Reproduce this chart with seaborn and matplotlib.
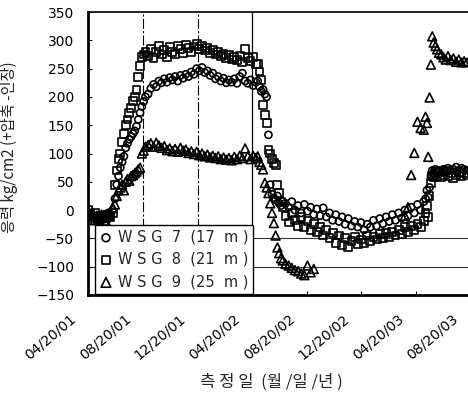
import numpy as np
import pandas as pd
import matplotlib
matplotlib.use("Agg")
import matplotlib.pyplot as plt
import seaborn as sns
from matplotlib.transforms import ScaledTranslation

nan = np.nan

# ---------------- data ----------------
start_date = "2001-04-20"
day_offsets = [
    0, 5, 10, 15, 20, 25, 30, 35, 40, 45, 50, 55,
    60, 64, 68, 72, 76, 80, 84, 88, 92, 96, 100, 104, 108, 112, 116, 120, 124, 128,
    134, 140, 146, 152, 158, 164, 170, 176, 182, 188, 194, 200, 206, 212, 218, 224,
    230, 236, 242, 248, 254, 260, 266, 272, 278, 284, 290, 296, 302, 308, 314, 320,
    326, 332, 338, 344, 350, 356, 362, 368, 374,
    378, 382, 386, 390, 394, 398, 402, 406, 410, 414, 418, 422, 426, 430, 434,
    440, 447, 454, 461, 468, 475, 482, 489, 496, 503, 510, 517, 524, 531, 538,
    545, 552, 559, 566, 573, 580, 587, 594, 601, 608, 615, 622, 629, 636, 643,
    650, 657, 664, 671, 678, 685, 692, 699, 706, 713, 720, 727, 734, 741, 748,
    752, 755, 758, 761, 764, 767, 770, 774, 778, 782, 787, 792, 797, 802, 808,
    814, 820, 826, 832, 838, 844,
]

wsg7 = [
    -5, -10, -8, -15, -12, -10, -18, -8, -12, -5, -10, 0,
    20, 45, 60, 75, 85, 95, 110, 118, 125, 130, 135, 140, 148, 160, 172, 183, 192, 200,
    205, 215, 222, 218, 228, 225, 232, 226, 234, 230, 236, 228, 238, 233, 240, 236,
    244, 240, 250, 246, 252, 243, 246, 238, 242, 232, 236, 228, 233, 225, 230, 226,
    232, 224, 236, 242, 228, 224, 230, 220, 226,
    228, 218, 210, 213, 205, 200, 133, 45, 28, 22, 18, 25, 12, 8, 15,
    12, 5, 15, 0, 8, -5, 10, -2, 5, -8, 2, -10, 4, -12, -5,
    -18, -8, -20, -12, -25, -15, -28, -20, -30, -22, -35, -25, -30, -18, -28,
    -15, -24, -12, -20, -8, -18, -5, -14, 0, -10, 5, -5, 10, 0, 15,
    20, 35, 23, 40, 60, 70, 65, 72, 68, 70, 66, 72, 68, 74, 70,
    72, 76, 70, 74, 72, 70,
]

wsg8 = [
    0, -8, -12, -5, -15, -18, -10, -20, -14, -8, -12, -5,
    45, 70, 90, 100, 120, 135, 150, 160, 172, 180, 192, 200, 212, 235, 255, 270, 275, 280,
    272, 285, 268, 280, 290, 275, 283, 270, 288, 280, 276, 290, 284, 278, 292, 286,
    280, 289, 293, 285, 290, 282, 287, 278, 283, 275, 280, 272, 276, 268, 274, 266,
    270, 265, 272, 262, 285, 268, 264, 270, 258,
    258, 245, 230, 186, 168, 154, 106, 100, 90, 83, 80, 44, 30, 15, 5,
    -10, -22, -5, -18, -28, -12, -30, -20, -35, -25, -38, -30, -45, -35, -50,
    -40, -58, -45, -62, -50, -65, -55, -48, -60, -52, -58, -45, -55, -48, -52,
    -42, -50, -40, -48, -38, -45, -35, -42, -30, -38, -28, -35, -25, -30, -20,
    -5, 8, -12, 25, 48, 60, 58, 65, 60, 68, 58, 62, 70, 60, 65,
    56, 62, 68, 60, 65, 62,
]

wsg9 = [
    -3, -12, -5, -18, -10, -15, -8, -14, -20, -10, -5, 5,
    10, 25, 35, 40, 45, 35, 50, 55, 52, 60, 62, 65, 68, 72, 75, 100, 105, 112,
    115, 118, 112, 119, 114, 110, 113, 106, 109, 104, 108, 103, 110, 105, 107, 101,
    104, 99, 103, 97, 100, 95, 98, 93, 96, 92, 95, 90, 93, 89, 92, 88,
    94, 90, 96, 92, 109, 95, 90, 96, 92,
    95, 85, 80, 72, 48, 40, 30, 12, -5, -23, -45, -66, -76, -85, -89,
    -95, -98, -102, -106, -108, -112, -115, -98, -110, -104, nan, nan, nan, nan, nan,
    nan, nan, nan, nan, nan, nan, nan, nan, nan, nan, nan, nan, nan, nan, nan,
    nan, nan, nan, nan, nan, nan, nan, nan, -10, 5, 62, 101, 156, 145, 142,
    165, 154, 94, 199, 257, 307, 296, 290, 284, 278, 275, 270, 266, 272, 265,
    268, 262, 266, 261, 263, 261,
]

series_labels = ["W S G  7  (17  m )", "W S G  8  (21  m )", "W S G  9  (25  m )"]
tick_dates = ["2001-04-20", "2001-08-20", "2001-12-20", "2002-04-20",
              "2002-08-20", "2002-12-20", "2003-04-20", "2003-08-20"]
tick_labels = ["04/20/01", "08/20/01", "12/20/01", "04/20/02",
               "08/20/02", "12/20/02", "04/20/03", "08/20/03"]
y_ticks = [-150, -100, -50, 0, 50, 100, 150, 200, 250, 300, 350]
x_title = "측 정 일  (월 /일 /년 )"
y_title = "응력 kg/cm2 (+압축 -인장)"

# ---------------- build table ----------------
dates = pd.Timestamp(start_date) + pd.to_timedelta(day_offsets, unit="D")
df = pd.DataFrame({"date": dates, "s7": wsg7, "s8": wsg8, "s9": wsg9})

sns.set_theme(style="white")
plt.rcParams["font.family"] = ["DejaVu Sans", "Noto Sans CJK KR"]
kr_font = ["Noto Sans CJK KR", "DejaVu Sans"]

W, H = 468, 393
fig = plt.figure(figsize=(W / 100, H / 100), dpi=100)
ax_left, ax_right, ax_top, ax_bottom = 88, 474, 12, 295
ax = fig.add_axes([ax_left / W, 1 - ax_bottom / H,
                   (ax_right - ax_left) / W, (ax_bottom - ax_top) / H])

# reference lines (grid remnants)
ax.axvline(pd.Timestamp("2001-08-20"), color="black", lw=0.8, ls=(0, (9, 2, 2, 2)), zorder=0)
ax.axvline(pd.Timestamp("2001-12-20"), color="black", lw=0.8, ls=(0, (9, 2, 2, 2)), zorder=0)
ax.axvline(pd.Timestamp("2002-04-20"), color="black", lw=0.9, zorder=0)
ax.axhline(-50, color="#333333", lw=0.8, zorder=0)
ax.axhline(-100, color="#333333", lw=0.8, zorder=0)

mk = {"s7": ("o", 26), "s8": ("s", 32), "s9": ("^", 40)}
for col, lab in zip(["s7", "s8", "s9"], series_labels):
    m, s = mk[col]
    sns.scatterplot(data=df, x="date", y=col, ax=ax, marker=m, s=s,
                    facecolor="none", edgecolor="black", linewidth=1.2,
                    label=lab, zorder=3)

ax.set_xlim(pd.Timestamp(start_date), pd.Timestamp(start_date) + pd.Timedelta(days=860))
ax.set_ylim(-150, 350)
ax.set_yticks(y_ticks)
ax.set_xticks(pd.to_datetime(tick_dates))
ax.set_xticklabels(tick_labels)
ax.set_xlabel("")
ax.set_ylabel("")

ax.tick_params(axis="y", direction="in", length=3, width=0.8, pad=10,
               labelsize=10, colors="black", left=True)
ax.tick_params(axis="x", direction="in", length=3, width=0.8, pad=0,
               labelsize=10, colors="black", bottom=True)
offset = ScaledTranslation(-14 / 100, -22 / 100, fig.dpi_scale_trans)
for lbl in ax.get_xticklabels():
    lbl.set_rotation(40)
    lbl.set_rotation_mode("anchor")
    lbl.set_ha("right")
    lbl.set_va("center")
    lbl.set_transform(lbl.get_transform() + offset)

for side in ["left", "bottom"]:
    ax.spines[side].set_linewidth(2.0)
    ax.spines[side].set_color("black")
ax.spines["top"].set_linewidth(1.2)
ax.spines["top"].set_color("black")
ax.spines["right"].set_visible(False)

leg = ax.legend(loc="lower left", bbox_to_anchor=(7 / (ax_right - ax_left), 0.005),
                frameon=True, fancybox=False, framealpha=1, edgecolor="black",
                fontsize=10.5, borderpad=0.3, labelspacing=0.5, handlelength=0.9,
                handletextpad=0.4, borderaxespad=0.0, markerscale=1.1)
leg.get_frame().set_linewidth(1.0)

fig.text(271 / W, 1 - 382 / H, x_title, ha="center", va="center",
         fontsize=12, family=kr_font)
fig.text(9 / W, 1 - 147 / H, y_title, ha="center", va="center",
         rotation=90, fontsize=11, family=kr_font)

fig.savefig("out.png", dpi=100, facecolor="white")
